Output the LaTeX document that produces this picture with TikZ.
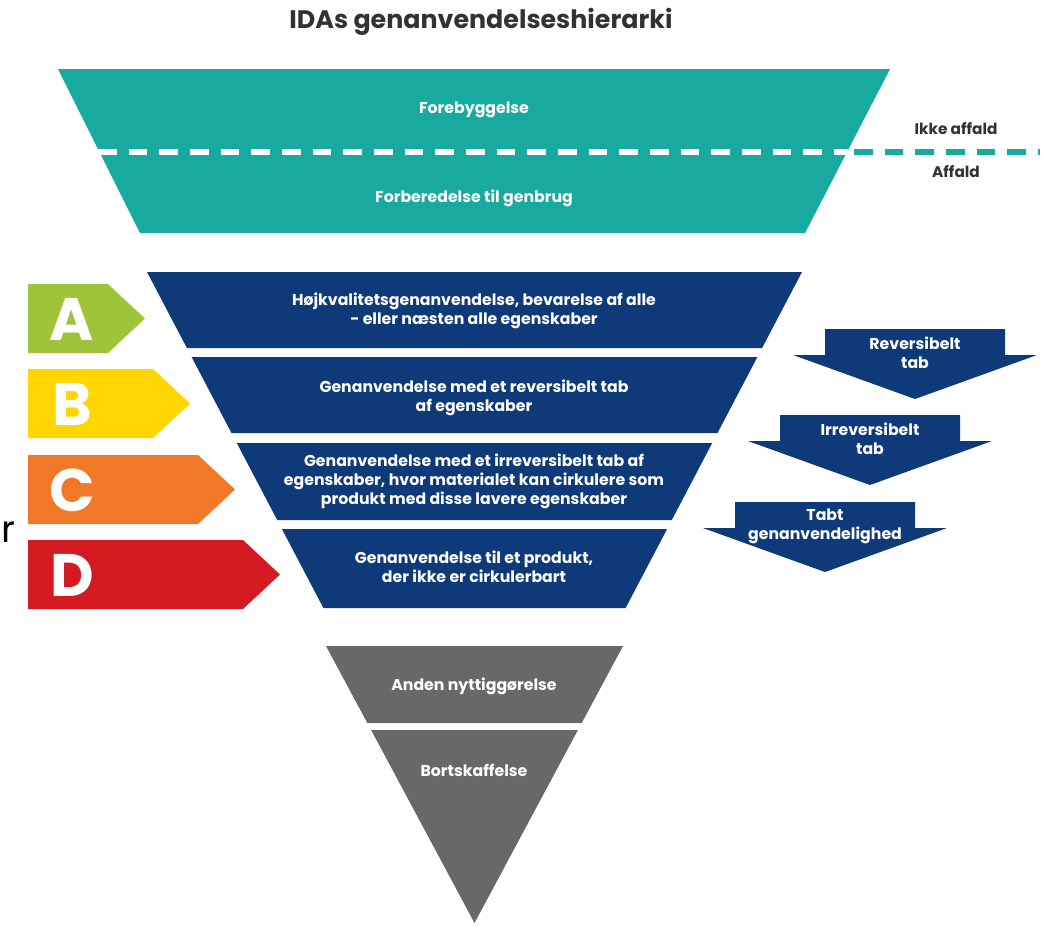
\documentclass[tikz,border=0pt]{standalone}
\usepackage{fontspec}
\setmainfont{Poppins}

\definecolor{idateal}{RGB}{24,170,158}
\definecolor{idanavy}{RGB}{14,58,122}
\definecolor{idagrey}{RGB}{104,104,106}
\definecolor{idalime}{RGB}{158,196,58}
\definecolor{idayellow}{RGB}{255,214,0}
\definecolor{idaorange}{RGB}{240,120,38}
\definecolor{idared}{RGB}{213,25,32}
\definecolor{idatext}{RGB}{50,50,52}

\tikzset{every picture/.style={line width=0.75pt}}
\tikzset{
  lvl/.style={text=white, align=center, inner sep=0.75pt, font=\fontsize{11.8}{14.25}\selectfont\bfseries},
  grade/.style={text=white, inner sep=0pt, font=\fontsize{45}{45}\selectfont\bfseries},
  side/.style={text=idatext, inner sep=0.75pt, font=\fontsize{11.5}{13}\selectfont\bfseries},
}

\begin{document}
\begin{tikzpicture}[x=0.75pt,y=0.75pt,yscale=-1,xscale=1]
	\useasboundingbox (0,0) rectangle (1045,926);
	
	% Title
	\draw (481,22) node [text=idatext][inner sep=0.75pt][font=\fontsize{19}{22}\selectfont\bfseries] (title) {IDAs genanvendelseshierarki};
	
	%Shape: Trapezoid [teal, not waste / waste]
	\fill [idateal] (58,69) -- (890,69) -- (805,233) -- (140,233) -- cycle ;
	%Straight Lines [dashed border]
	\draw [white, line width=4, dash pattern={on 14pt off 9pt}] (98,152) -- (848,152) ;
	\draw [idateal, line width=4, dash pattern={on 14pt off 9pt}] (854,152) -- (1040,152) ;
	
	%Shape: Trapezoids [navy recycling bands]
	\fill [idanavy] (147,272) -- (802,272) -- (762.1,348) -- (186.9,348) -- cycle ;
	\fill [idanavy] (191.6,357) -- (757.4,357) -- (717.5,433) -- (231.5,433) -- cycle ;
	\fill [idanavy] (236.8,443) -- (712.2,443) -- (671.8,520) -- (277.2,520) -- cycle ;
	\fill [idanavy] (281.9,529) -- (667.1,529) -- (625.6,608) -- (323.4,608) -- cycle ;
	
	%Shape: Trapezoid + Triangle [grey]
	\fill [idagrey] (326,646) -- (623,646) -- (581.7,723) -- (367.3,723) -- cycle ;
	\fill [idagrey] (371.1,730) -- (577.9,730) -- (474.5,923) -- cycle ;
	
	%Shape: Grade arrows
	\foreach \g/\c/\t/\r in {A/idalime/284/108, B/idayellow/369/153, C/idaorange/455/198, D/idared/540/243}{
		\fill [\c] (28,\t) -- (\r,\t) -- (\r+37,\t+34.5) -- (\r,\t+69) -- (28,\t+69) -- cycle ;
		\draw (72,\t+35) node [grade] (grade\g) {\g};
	}
	
	%Shape: Down arrows
	\foreach \n/\l/\t in {rev/825/329, irr/780/415, tabt/735/502}{
		\fill [idanavy] (\l,\t) -- (\l+180,\t) -- (\l+180,\t+26) -- (\l+212,\t+26) -- (\l+90,\t+70) -- (\l-32,\t+26) -- (\l,\t+26) -- cycle ;
		\coordinate (\n) at (\l+90,\t+24) ;
	}
	
	% Text Node
	\draw (474,110) node [lvl] (forebyg) {Forebyggelse};
	% Text Node
	\draw (474,198) node [lvl] (forbered) {Forberedelse til genbrug};
	% Text Node
	\draw (956,129) node [side] (ikke) {Ikke affald};
	% Text Node
	\draw (956,172) node [side] (affald) {Affald};
	% Text Node
	\draw (474,310.5) node [lvl] (bandA) {Højkvalitetsgenanvendelse, bevarelse af alle\\- eller næsten alle egenskaber};
	% Text Node
	\draw (474,397.5) node [lvl] (bandB) {Genanvendelse med et reversibelt tab\\af egenskaber};
	% Text Node
	\draw (474,481) node [lvl] (bandC) {Genanvendelse med et irreversibelt tab af\\egenskaber, hvor materialet kan cirkulere som\\produkt med disse lavere egenskaber};
	% Text Node
	\draw (474,566.5) node [lvl] (bandD) {Genanvendelse til et produkt,\\der ikke er cirkulerbart};
	% Text Node
	\draw (474,686) node [lvl] (anden) {Anden nyttiggørelse};
	% Text Node
	\draw (474,770) node [lvl] (bort) {Bortskaffelse};
	% Text Node
	\draw (rev) node [lvl] (revtxt) {Reversibelt\\tab};
	% Text Node
	\draw (irr) node [lvl] (irrtxt) {Irreversibelt\\tab};
	% Text Node
	\draw (tabt) node [lvl] (tabttxt) {Tabt\\genanvendelighed};
	% Text Node
	\draw (1,542) node [anchor=base west][inner sep=0pt][font=\fontsize{28}{28}\selectfont] (stray) {r};
	
\end{tikzpicture}
\end{document}
